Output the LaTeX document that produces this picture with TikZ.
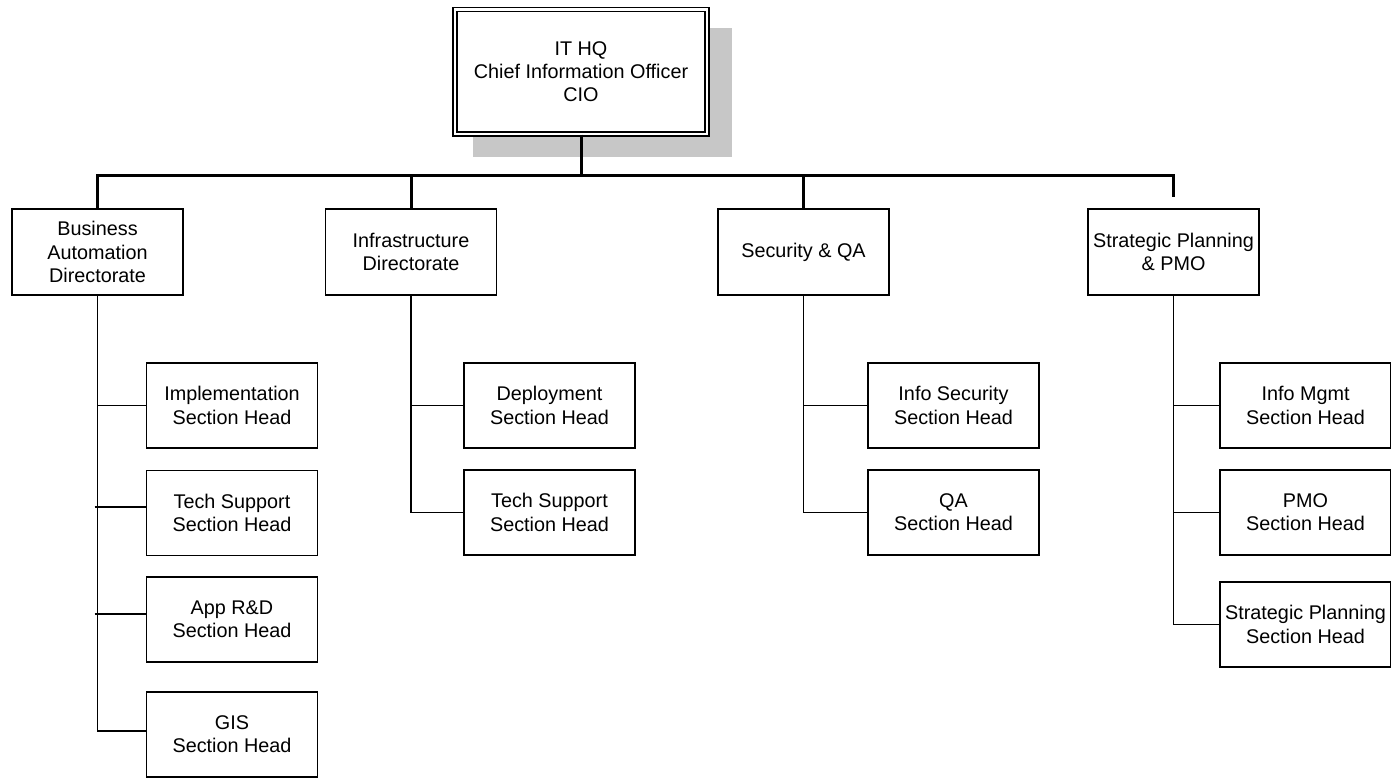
\documentclass[tikz,border=0pt]{standalone}
\usepackage{fontspec}
\setmainfont{Liberation Sans}
\begin{document}
\begin{tikzpicture}[x=1pt,y=-1pt,
  box/.style={draw, line width=1.5pt, fill=white, inner sep=0pt, align=center,
    font=\fontsize{19.8}{23.3}\selectfont},
  dir/.style={box, minimum width=171pt, minimum height=86pt},
  sect/.style={box, minimum width=171pt, minimum height=85pt},
  bus/.style={line width=3pt},
  link/.style={line width=1.6pt}]
\useasboundingbox (0,0) rectangle (1391,778);
% shadow of top box
\fill[black!22] (473,28) rectangle (732,157);
\node[box, double, double distance=2.5pt, minimum width=252pt, minimum height=124.5pt]
  (cio) at (581,71.75) {IT HQ\\Chief Information Officer\\CIO};
% directorates
\node[dir] (ba)  at (97.5,252)  {Business\\Automation\\Directorate};
\node[dir] (inf) at (411,252)   {Infrastructure\\Directorate};
\node[dir] (sec) at (803.5,252) {Security \& QA};
\node[dir] (sp)  at (1173.5,252){Strategic Planning\\\& PMO};
% sections
\node[sect] (impl) at (232,405.5) {Implementation\\Section Head};
\node[sect] (ts1)  at (232,513)   {Tech Support\\Section Head};
\node[sect] (app)  at (232,619.5) {App R\&D\\Section Head};
\node[sect] (gis)  at (232,734.5) {GIS\\Section Head};
\node[sect] (dep)  at (549.5,405.5) {Deployment\\Section Head};
\node[sect] (ts2)  at (549.5,512.5) {Tech Support\\Section Head};
\node[sect] (isec) at (953.5,405.5) {Info Security\\Section Head};
\node[sect] (qa)   at (953.5,512.5) {QA\\Section Head};
\node[sect] (im)   at (1305.5,405.5) {Info Mgmt\\Section Head};
\node[sect] (pmo)  at (1305.5,512.5) {PMO\\Section Head};
\node[sect] (sps)  at (1305.5,624.5) {Strategic Planning\\Section Head};
% bus
\coordinate (bus) at (0,176);
\coordinate (spdrop) at (1173.5,197);
\draw[bus] (cio.south) -- (cio.south |- bus);
\draw[bus] (ba.north) -- (ba.north |- bus) -- (spdrop |- bus) -- (spdrop);
\draw[bus] (inf.north) -- (inf.north |- bus);
\draw[bus] (sec.north) -- (sec.north |- bus);
% business column
\coordinate (gisin) at ([yshift=3.5pt]gis.west);
\coordinate (ts1in) at ([yshift=6pt]ts1.west);
\coordinate (appin) at ([yshift=5.5pt]app.west);
\draw[link] (ba.south) -- (ba.south |- gisin) -- (gisin);
\draw[link] (ba.south |- impl.west) -- (impl.west);
\draw[link] ([xshift=-3pt]ba.south |- ts1in) -- (ts1in);
\draw[link] ([xshift=-3pt]ba.south |- appin) -- (appin);
% infrastructure column
\draw[link] (inf.south) -- (inf.south |- ts2.west) -- (ts2.west);
\draw[link] (inf.south |- dep.west) -- (dep.west);
% security column
\draw[link] (sec.south) -- (sec.south |- qa.west) -- (qa.west);
\draw[link] (sec.south |- isec.west) -- (isec.west);
% strategic column
\draw[link] (sp.south) -- (sp.south |- sps.west) -- (sps.west);
\draw[link] (sp.south |- im.west) -- (im.west);
\draw[link] (sp.south |- pmo.west) -- (pmo.west);
\end{tikzpicture}
\end{document}
